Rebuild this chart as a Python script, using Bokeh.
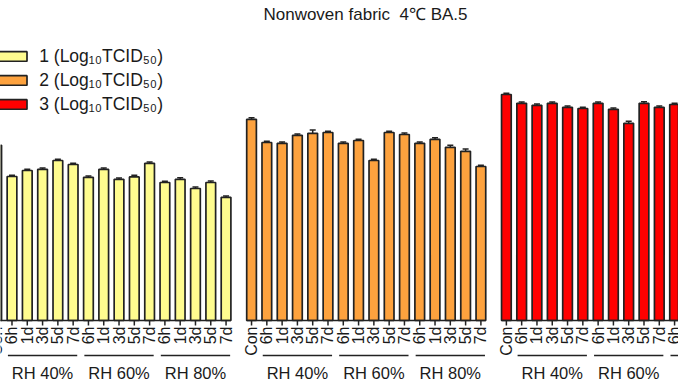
from math import pi
from bokeh.plotting import figure
from bokeh.models import (ColumnDataSource, Range1d, Legend, LegendItem, Label, Whisker, TeeHead)
from bokeh.core.properties import value
from bokeh.embed import file_html
from bokeh.resources import INLINE

# ---------------- data ----------------
title_text = "Nonwoven fabric\u00a0 4\u2103 BA.5"
series_names = ["1 (Log\u2081\u2080TCID\u2085\u2080)", "2 (Log\u2081\u2080TCID\u2085\u2080)", "3 (Log\u2081\u2080TCID\u2085\u2080)"]
series_colors = ["#FFFC8F", "#FDA23E", "#FF0000"]
conditions = ["Con", "6h", "1d", "3d", "5d", "7d", "6h", "1d", "3d", "5d", "7d",
              "6h", "1d", "3d", "5d", "7d"]
rh_groups = ["RH 40%", "RH 60%", "RH 80%"]
rh_first_index = [1, 6, 11]
rh_last_index = [5, 10, 15]

values_1 = [4.38, 3.60, 3.75, 3.78, 4.00, 3.90, 3.58, 3.78, 3.53, 3.59, 3.93,
            3.45, 3.53, 3.30, 3.45, 3.08]
errors_1 = [0.03, 0.03, 0.03, 0.03, 0.03, 0.03, 0.03, 0.03, 0.03, 0.04, 0.03,
            0.03, 0.04, 0.04, 0.04, 0.03]
values_2 = [5.03, 4.45, 4.43, 4.63, 4.68, 4.70, 4.43, 4.50, 4.00, 4.70, 4.65,
            4.43, 4.53, 4.33, 4.23, 3.85]
errors_2 = [0.04, 0.03, 0.03, 0.03, 0.08, 0.03, 0.03, 0.03, 0.03, 0.03, 0.04,
            0.03, 0.04, 0.05, 0.06, 0.03]
# series 3: only the part visible in the picture
values_3 = [5.65, 5.43, 5.38, 5.43, 5.33, 5.30, 5.43, 5.28, 4.93, 5.43, 5.33, 5.40]
errors_3 = [0.03, 0.03, 0.03, 0.03, 0.03, 0.03, 0.03, 0.03, 0.05, 0.04, 0.03, 0.03]

all_values = [values_1, values_2, values_3]
all_errors = [errors_1, errors_2, errors_3]

# ---------------- layout constants ----------------
STEP = 3          # distance between neighbouring bars
GROUP = 50        # distance between the starts of two series blocks
BAR_W = 1.9
INK = "#222222"
TXT = "#1a1a1a"
FONT = "Liberation Sans"
TICK_LEN = 0.125
LAB_Y = -0.15
LINE_Y = -0.875
GLAB_Y = -1.3

p = figure(width=678, height=381, output_backend="svg", toolbar_location=None,
           x_range=Range1d(0.7455, 133.77), y_range=Range1d(-1.525, 8.0),
           min_border_left=0, min_border_right=0, min_border_top=0, min_border_bottom=0,
           x_axis_location=None, y_axis_location=None)
p.xgrid.visible = False
p.ygrid.visible = False
p.outline_line_color = None
p.background_fill_color = "white"

tick_x, tick_text = [], []
gxc, glab = [], []
lx0, lx1 = [], []
base_x0, base_x1 = [], []
renderers = []
for g, (vals, errs, col) in enumerate(zip(all_values, all_errors, series_colors)):
    k = len(vals)
    xs = [g * GROUP + STEP * i for i in range(k)]
    base_x0.append(xs[0] - BAR_W / 2)
    base_x1.append(xs[-1] + BAR_W / 2)
    src = ColumnDataSource(dict(x=xs, top=vals, upper=[v + e for v, e in zip(vals, errs)]))
    r = p.vbar(x="x", top="top", width=BAR_W, bottom=0, source=src,
               fill_color=col, line_color=INK, line_width=1.7)
    renderers.append(r)
    p.add_layout(Whisker(base="x", upper="upper", lower="top", source=src,
                         line_color=INK, line_width=1.5,
                         upper_head=TeeHead(size=6, line_color=INK, line_width=1.5),
                         lower_head=None))
    tick_x += xs
    tick_text += conditions[:k]
    for a, b, lab in zip(rh_first_index, rh_last_index, rh_groups):
        if a >= k:
            continue
        lx0.append(xs[a] - 0.8)
        lx1.append(xs[min(b, k - 1)] + 0.8)
        if b < k:
            gxc.append((xs[a] + xs[b]) / 2)
            glab.append(lab)

# baseline of each block (axis line)
p.segment(x0=base_x0, y0=[0] * 3, x1=base_x1, y1=[0] * 3, line_color=INK, line_width=1.5)

# ticks and tick labels
n = len(tick_x)
tsrc = ColumnDataSource(dict(x=tick_x, y0=[0] * n, y1=[-TICK_LEN] * n, yl=[LAB_Y] * n, t=tick_text))
p.segment(x0="x", y0="y0", x1="x", y1="y1", source=tsrc, line_color=INK, line_width=1.5)
p.text(x="x", y="yl", text="t", source=tsrc, angle=pi / 2, text_align="right",
       text_baseline="middle", text_font=value(FONT), text_font_size=value("16px"),
       text_color=TXT)

# RH group lines and labels
lsrc = ColumnDataSource(dict(x0=lx0, x1=lx1, y=[LINE_Y] * len(lx0)))
p.segment(x0="x0", y0="y", x1="x1", y1="y", source=lsrc, line_color=INK, line_width=1.5)
gsrc = ColumnDataSource(dict(xc=gxc, yl=[GLAB_Y] * len(gxc), t=glab))
p.text(x="xc", y="yl", text="t", source=gsrc, text_align="center", text_baseline="middle",
       text_font=value(FONT), text_font_size=value("16.5px"), text_color=TXT)

legend = Legend(items=[LegendItem(label=nm, renderers=[r]) for nm, r in zip(series_names, renderers)],
                location=(-4.8, 266.2), glyph_width=35, glyph_height=12, label_standoff=9,
                padding=0, margin=0, spacing=3, border_line_color=None,
                background_fill_alpha=0, label_text_font=FONT,
                label_text_font_size="17.5px", label_text_color=TXT)
p.add_layout(legend)

p.add_layout(Label(x=365, y=367, x_units="screen", y_units="screen", text=title_text,
                   text_align="center", text_baseline="alphabetic",
                   text_font=FONT, text_font_size="17px", text_color=TXT))

open("out.html", "w").write(file_html(p, INLINE))
